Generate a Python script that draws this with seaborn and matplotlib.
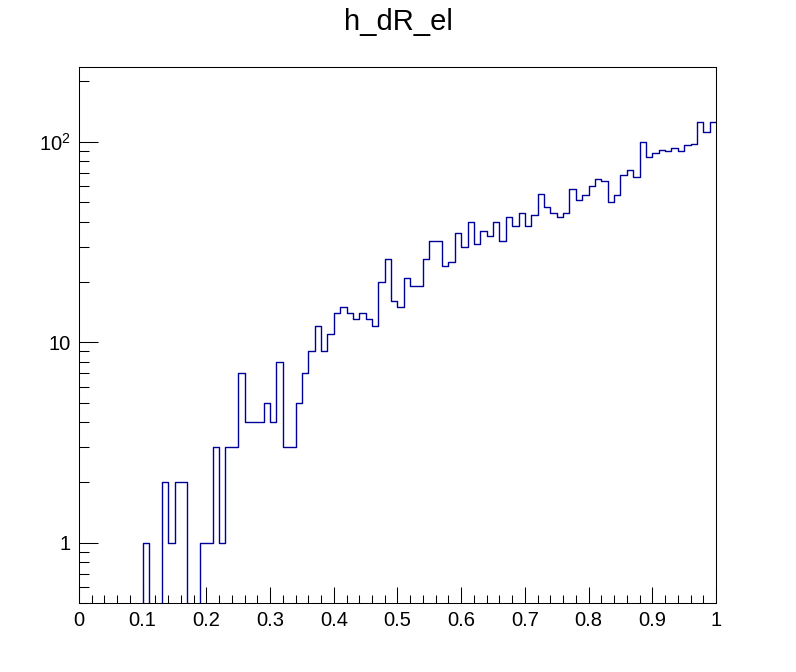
import numpy as np
import pandas as pd
import matplotlib

matplotlib.use("Agg")
import matplotlib.pyplot as plt
import matplotlib.ticker as mticker
import seaborn as sns

# h_dR_el: 100 bins between 0 and 1, counts
x_min = 0.0
x_max = 1.0
n_bins = 100
counts = [
    0, 0, 0, 0, 0, 0, 0, 0, 0, 0,
    1, 0, 0, 2, 1, 2, 2, 0, 0, 1,
    1, 3, 1, 3, 3, 7, 4, 4, 4, 5,
    4, 8, 3, 3, 5, 7, 9, 12, 9, 11,
    14, 15, 14, 13, 14, 13, 12, 20, 26, 16,
    15, 21, 19, 19, 26, 32, 32, 24, 25, 35,
    30, 40, 31, 36, 34, 40, 32, 42, 38, 44,
    38, 43, 55, 47, 44, 42, 44, 58, 51, 54,
    60, 65, 64, 50, 54, 68, 72, 67, 100, 84,
    88, 91, 90, 93, 90, 96, 98, 125, 112, 125,
]
y_ticks = [1, 10, 100]
y_tick_labels = ["1", "10", "$10^{2}$"]
title = "h_dR_el"

edges = np.linspace(x_min, x_max, n_bins + 1)
df = pd.DataFrame({"dR": (edges[:-1] + edges[1:]) / 2, "n": counts})

sns.set_theme(style="white")
plt.rcParams["font.family"] = ["Liberation Sans", "DejaVu Sans"]
plt.rcParams["mathtext.fontset"] = "custom"
plt.rcParams["mathtext.rm"] = "Liberation Sans"
plt.rcParams["text.color"] = "black"
plt.rcParams["xtick.color"] = "black"
plt.rcParams["ytick.color"] = "black"

fig = plt.figure(figsize=(7.96, 6.72), dpi=100)
ax = fig.add_axes([0.0992, 0.1027, 0.8003, 0.7976])

sns.histplot(
    data=df,
    x="dR",
    weights="n",
    bins=n_bins,
    binrange=(x_min, x_max),
    element="step",
    fill=False,
    color="#000099",
    linewidth=1.0,
    ax=ax,
)

ax.set_yscale("log")
ax.set_xlim(x_min, x_max)
ax.set_ylim(0.5, 236)

# ROOT-like axes: inside ticks, frame box, no labels
ax.xaxis.set_major_locator(mticker.MultipleLocator(0.1))
ax.xaxis.set_minor_locator(mticker.MultipleLocator(0.02))
ax.xaxis.set_major_formatter(mticker.FuncFormatter(lambda v, p: f"{v:g}"))
ax.yaxis.set_major_locator(mticker.FixedLocator(y_ticks))
ax.yaxis.set_major_formatter(mticker.FixedFormatter(y_tick_labels))
ax.yaxis.set_minor_locator(mticker.LogLocator(base=10, subs=np.arange(2, 10)))
ax.yaxis.set_minor_formatter(mticker.NullFormatter())

ax.tick_params(axis="x", which="major", direction="in", length=11.5, width=0.75,
               labelsize=14.5, pad=6, bottom=True, top=False, colors="black")
ax.tick_params(axis="x", which="minor", direction="in", length=5.8, width=0.75,
               bottom=True, top=False, colors="black")
ax.tick_params(axis="y", which="major", direction="in", length=13.7, width=0.75,
               labelsize=14.5, pad=6, left=True, right=False, colors="black")
ax.tick_params(axis="y", which="minor", direction="in", length=7, width=0.75,
               left=True, right=False, colors="black")

for s in ax.spines.values():
    s.set_color("black")
    s.set_linewidth(0.75)

ax.set_xlabel("")
ax.set_ylabel("")
fig.text(0.5, 0.967, title, ha="center", va="center", fontsize=21, color="black")

fig.savefig("out.png", dpi=100, facecolor="white")
plt.close(fig)
